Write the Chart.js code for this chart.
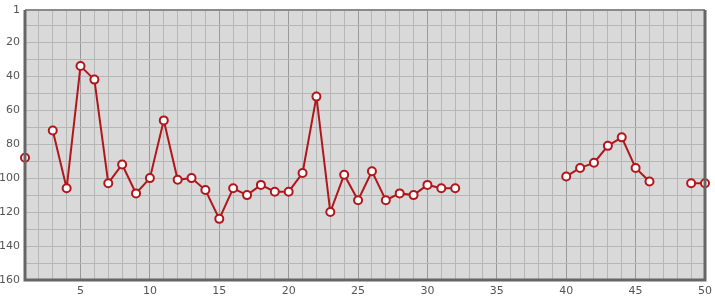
<!DOCTYPE html>
<html>
<head>
<meta charset="utf-8">
<script src="https://cdn.jsdelivr.net/npm/chart.js@4"></script>
<style>
  html, body { margin: 0; padding: 0; background: #fff; }
  #wrap { width: 715px; height: 300px; }
</style>
</head>
<body>
<div id="wrap"><canvas id="myChart"></canvas></div>
<script>
// positions (x = round number, y = rank)
const rounds = []
for (let i = 1; i <= 50; i++) rounds.push(i)

const ranks = [
  88, null, 72, 106, 34, 42, 103, 92, 109, 100,
  66, 101, 100, 107, 124, 106, 110, 104, 108, 108,
  97, 52, 120, 98, 113, 96, 113, 109, 110, 104,
  106, 106, null, null, null, null, null, null, null, 99,
  94, 91, 81, 76, 94, 102, null, null, 103, 103,
]

const yTicks = [1, 10, 20, 30, 40, 50, 60, 70, 80, 90, 100, 110, 120, 130, 140, 150, 160]
const yLabels = [1, 20, 40, 60, 80, 100, 120, 140, 160]

const points = rounds.map((r, i) => ({ x: r, y: ranks[i] }))

// plot background + frame
const frame = {
  id: 'frame',
  beforeDraw(chart) {
    const { ctx, chartArea: a } = chart
    ctx.save()
    ctx.fillStyle = '#d9d9d9'
    ctx.fillRect(a.left, a.top, a.right - a.left, a.bottom - a.top)
    ctx.restore()
  },
  afterDatasetsDraw(chart) {
    const { ctx, chartArea: a } = chart
    ctx.save()
    ctx.strokeStyle = '#8a8a8a'
    ctx.lineWidth = 2
    ctx.beginPath()
    ctx.moveTo(a.left, a.top)
    ctx.lineTo(a.right, a.top)
    ctx.stroke()
    ctx.strokeStyle = '#666'
    ctx.lineWidth = 3
    ctx.beginPath()
    ctx.moveTo(a.left, a.top)
    ctx.lineTo(a.left, a.bottom)
    ctx.lineTo(a.right, a.bottom)
    ctx.lineTo(a.right, a.top)
    ctx.stroke()
    ctx.restore()
  },
}

const ctx = document.getElementById('myChart').getContext('2d')
new Chart(ctx, {
  type: 'line',
  data: {
    datasets: [
      {
        data: points,
        borderColor: '#b2161b',
        borderWidth: 2,
        pointRadius: 4,
        pointHoverRadius: 4,
        pointBorderWidth: 2,
        pointBorderColor: '#b2161b',
        pointBackgroundColor: '#ffffff',
        spanGaps: false,
        tension: 0,
        clip: false,
      },
    ],
  },
  options: {
    responsive: true,
    maintainAspectRatio: false,
    animation: false,
    layout: { padding: { top: 10, right: 10, left: 0, bottom: 0 } },
    plugins: { legend: { display: false }, tooltip: { enabled: false } },
    scales: {
      x: {
        type: 'linear',
        min: 1,
        max: 50,
        afterBuildTicks: (s) => {
          s.ticks = rounds.map((v) => ({ value: v }))
        },
        afterFit: (s) => {
          s.height = 20
          s.paddingLeft = 0
          s.paddingRight = 0
        },
        border: { display: false },
        grid: {
          drawTicks: false,
          color: (c) => (c.tick && c.tick.value % 5 === 0 ? '#999999' : '#b6b6b6'),
          lineWidth: 1,
        },
        ticks: {
          autoSkip: false,
          maxRotation: 0,
          padding: 5,
          color: '#555',
          font: { family: 'DejaVu Sans', size: 11 },
          callback: (v) => (v % 5 === 0 ? v : ''),
        },
      },
      y: {
        reverse: true,
        min: 1,
        max: 160,
        afterBuildTicks: (s) => {
          s.ticks = yTicks.map((v) => ({ value: v }))
        },
        afterFit: (s) => {
          s.width = 25
          s.paddingTop = 0
          s.paddingBottom = 0
        },
        border: { display: false },
        grid: {
          drawTicks: false,
          color: '#b6b6b6',
          lineWidth: 1,
        },
        ticks: {
          autoSkip: false,
          padding: 5,
          color: '#555',
          font: { family: 'DejaVu Sans', size: 11 },
          callback: (v) => (yLabels.includes(v) ? v : ''),
        },
      },
    },
  },
  plugins: [frame],
})
</script>
</body>
</html>
